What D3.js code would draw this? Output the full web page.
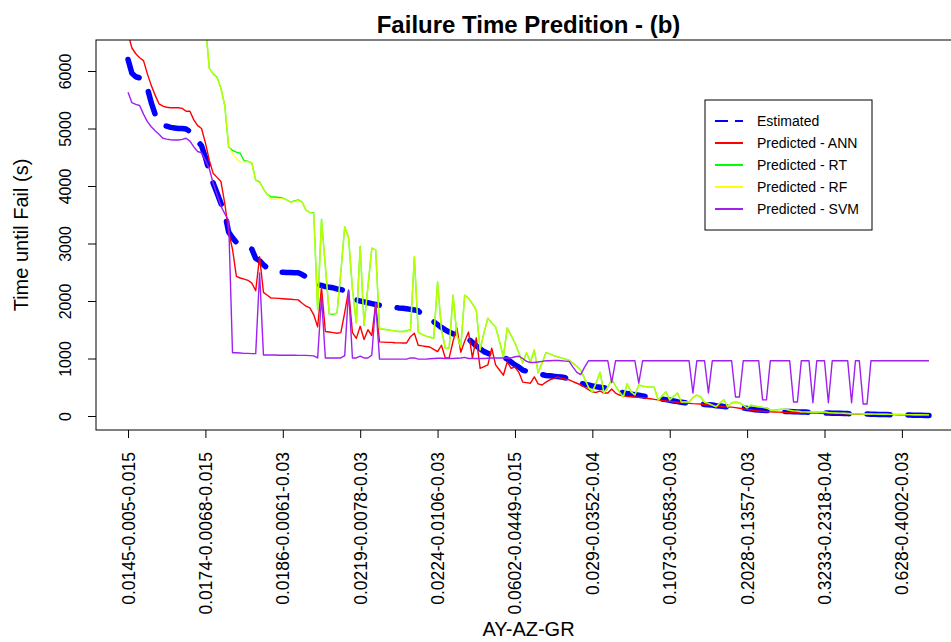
<!DOCTYPE html>
<html>
<head>
<meta charset="utf-8">
<script src="https://d3js.org/d3.v7.min.js"></script>
<style>
  body { margin: 0; background: #fff; }
  text { font-family: "Liberation Sans", Arial, Helvetica, sans-serif; }
</style>
</head>
<body>
<div id="chart"></div>
<script>
// tick labels on the x axis (every 20th case)
var xTickIdx = [1, 21, 41, 61, 81, 101, 121, 141, 161, 181, 201];
var xTickLabels = ["0.0145-0.005-0.015", "0.0174-0.0068-0.015", "0.0186-0.0061-0.03",
  "0.0219-0.0078-0.03", "0.0224-0.0106-0.03", "0.0602-0.0449-0.015", "0.029-0.0352-0.04",
  "0.1073-0.0583-0.03", "0.2028-0.1357-0.03", "0.3233-0.2318-0.04", "0.628-0.4002-0.03"];
var yTicks = [0, 1000, 2000, 3000, 4000, 5000, 6000];

var seriesNames = ["Estimated", "Predicted - ANN", "Predicted - RT", "Predicted - RF", "Predicted - SVM"];

var estimated = [
  6200,5960,5900,5880,5860,5700,5450,5250,5100,5060,
  5040,5020,5010,5000,5000,4990,4950,4880,4780,4700,
  4500,4250,4050,3880,3700,3530,3200,3100,3020,2970,
  2960,2945,2900,2740,2700,2630,2570,2540,2520,2500,
  2500,2495,2495,2490,2490,2460,2420,2370,2330,2290,
  2270,2250,2240,2230,2210,2200,2180,2120,2060,2020,
  2000,1985,1970,1955,1940,1925,1910,1900,1895,1890,
  1880,1875,1865,1855,1845,1830,1760,1730,1700,1640,
  1590,1540,1500,1460,1430,1400,1380,1365,1340,1280,
  1220,1170,1120,1090,1070,1060,1040,1020,990,940,
  890,850,800,780,765,750,735,720,705,700,
  690,685,680,665,630,600,585,570,550,540,
  525,510,500,490,480,470,445,420,405,390,
  380,370,360,350,335,325,315,305,295,285,
  275,262,250,240,230,225,220,215,210,200,
  195,190,180,175,165,160,155,150,145,140,
  130,120,110,105,100,95,92,88,85,82,
  80,78,75,72,70,68,65,62,60,57,
  55,52,50,48,46,44,42,40,38,37,
  35,34,32,30,28,27,25,24,22,21,
  20,18,16,15,13,12,11,10];

var ann = [
  6650,6400,6300,6230,6180,5950,5750,5580,5430,5390,
  5370,5360,5360,5360,5350,5300,5300,5150,5050,5000,
  4750,4450,4220,4150,4080,3700,3200,2900,2430,2400,
  2380,2360,2310,2180,2770,2150,2100,2050,2050,2045,
  2040,2035,2030,2025,2020,1960,1910,1880,1760,1550,
  2240,1470,1460,1450,1440,1450,1800,2190,1450,1350,
  1560,1330,1500,1400,1950,1290,1285,1280,1280,1275,
  1272,1270,1270,1380,1440,1230,1220,1210,1200,1160,
  1120,1230,1010,1010,1300,1530,1110,1300,1460,1010,
  1360,830,860,890,1180,890,800,710,940,830,
  850,760,590,580,570,680,560,540,590,630,
  650,680,660,640,630,600,570,540,500,460,
  420,410,435,400,400,470,400,365,350,340,
  335,330,325,320,310,300,290,280,270,262,
  255,248,240,232,225,220,215,212,208,200,
  192,185,178,170,163,158,155,145,135,125,
  115,105,95,88,82,78,72,70,68,66,
  64,62,60,58,57,55,53,52,50,48,
  47,45,44,42,41,40,38,37,36,35,
  33,32,31,30,28,27,26,25,24,22,
  21,20,19,18,17,16,15,14];

var rt = [
  9000,8850,8700,8600,8500,8400,8300,8200,8100,8000,
  7900,7800,7700,7600,7500,7400,7300,7200,7100,7000,
  6800,6050,5950,5890,5700,5400,4680,4620,4590,4570,
  4440,4430,4400,4100,4070,3950,3850,3810,3810,3800,
  3790,3760,3720,3740,3760,3720,3580,3540,3530,1850,
  3420,2600,1780,1770,1790,2500,3290,3100,2200,1620,
  2950,1580,2250,2920,2890,1520,1510,1500,1490,1480,
  1470,1470,1480,1500,2770,1460,1420,1390,1370,1350,
  2330,1500,1180,1180,2100,1400,1200,2100,2050,1950,
  1840,1150,1450,1700,1620,1550,1300,1030,1530,1400,
  1270,1100,920,1100,940,1150,750,920,1100,1080,
  1050,1030,1010,990,970,920,860,800,650,500,
  420,580,760,400,500,640,520,420,330,560,
  420,365,540,520,510,500,500,280,350,420,
  280,340,400,245,245,245,320,365,330,240,
  220,190,160,230,280,160,230,240,230,190,
  140,190,175,160,150,140,105,100,110,120,
  115,100,90,85,75,72,70,68,70,72,
  70,60,55,52,50,48,45,40,38,37,
  36,35,34,33,32,31,30,29,28,27,
  26,25,24,23,22,21,20,19];

var rf = [
  9000,8850,8700,8600,8500,8400,8300,8200,8100,8000,
  7900,7800,7700,7600,7500,7400,7300,7200,7100,7000,
  6800,6050,5950,5880,5700,5400,4700,4560,4480,4420,
  4420,4430,4400,4100,4060,3950,3850,3770,3770,3780,
  3780,3760,3720,3730,3750,3720,3580,3540,3520,1850,
  3410,2600,1790,1780,1790,2500,3290,3110,2200,1620,
  2940,1580,2250,2920,2890,1530,1510,1500,1490,1480,
  1470,1460,1470,1500,2770,1460,1420,1390,1370,1350,
  2330,1500,1180,1180,2100,1400,1200,2100,2050,1950,
  1840,1150,1450,1700,1620,1550,1300,1030,1530,1400,
  1270,1100,920,1100,940,1150,750,920,1100,1080,
  1050,1030,1010,990,970,920,860,800,650,500,
  420,580,760,400,500,640,520,420,330,560,
  420,365,540,520,510,500,500,280,350,420,
  280,340,400,245,245,245,320,365,330,240,
  220,190,160,230,280,160,230,240,230,190,
  140,190,175,160,150,140,105,100,110,120,
  115,100,90,85,75,72,70,68,70,72,
  70,60,55,52,50,48,45,40,38,37,
  36,35,34,33,32,31,30,29,28,27,
  26,25,24,23,22,21,20,19];

var svm = [
  5630,5450,5420,5400,5250,5120,5030,4960,4900,4830,
  4815,4805,4800,4800,4810,4830,4780,4680,4600,4575,
  4450,4300,4050,3850,3650,3520,3400,1100,1100,1095,
  1090,1090,1085,1085,2490,1060,1060,1060,1060,1058,
  1058,1057,1057,1056,1055,1055,1055,1050,1045,1010,
  2070,1010,1010,1010,1010,1010,1050,2190,1010,1010,
  1040,1010,1010,1060,1960,990,990,990,990,990,
  990,990,990,1010,1010,990,990,990,995,1000,
  1005,1005,1000,1000,1000,1005,1010,1020,1000,1000,
  1000,1000,1000,1005,1010,1010,1010,1010,1010,1010,
  1030,1040,1000,950,930,930,940,950,960,960,
  965,965,960,955,950,850,760,720,850,960,
  960,960,960,960,960,580,960,960,960,960,
  960,960,570,960,960,960,960,960,960,960,
  960,960,960,960,960,960,400,960,960,960,
  400,960,960,960,960,960,960,330,330,960,
  960,960,960,960,280,280,960,960,960,960,
  960,960,245,245,960,960,960,230,960,960,
  960,230,960,960,960,960,960,230,960,960,
  210,210,960,960,960,960,960,960,960,960,
  960,960,960,960,960,960,960,960];

var W = 951, H = 642;
var plot = { left: 96, right: 961, top: 40, bottom: 430 };

var n = estimated.length;
// R style axis range: data range stretched by 4% on each side
var xPad = 0.04 * (n - 1);
var x = d3.scaleLinear().domain([1 - xPad, n + xPad]).range([plot.left, plot.right]);
var yLim = [8, 6288], yPad = 0.04 * (yLim[1] - yLim[0]);
var y = d3.scaleLinear().domain([yLim[0] - yPad, yLim[1] + yPad]).range([plot.bottom, plot.top]);

var svg = d3.select("#chart").append("svg")
  .attr("width", W).attr("height", H);

svg.append("clipPath").attr("id", "clip")
  .append("rect")
  .attr("x", plot.left).attr("y", plot.top)
  .attr("width", plot.right - plot.left).attr("height", plot.bottom - plot.top);

var line = d3.line()
  .x(function (d, i) { return x(i + 1); })
  .y(function (d) { return y(d); });

var lines = svg.append("g").attr("clip-path", "url(#clip)");

lines.append("path").datum(estimated)
  .attr("d", line).attr("fill", "none")
  .attr("stroke", "#0000ff").attr("stroke-width", 5.5)
  .attr("stroke-dasharray", "23,18").attr("stroke-linecap", "round")
  .attr("stroke-linejoin", "round");

var thin = [
  { data: ann, color: "#ff0000", op: 1 },
  { data: rt, color: "#00ff00", op: 1 },
  { data: rf, color: "#ffff00", op: 0.72 },
  { data: svm, color: "#a020f0", op: 1 }
];
thin.forEach(function (s) {
  lines.append("path").datum(s.data)
    .attr("d", line).attr("fill", "none")
    .attr("stroke", s.color).attr("stroke-opacity", s.op)
    .attr("stroke-width", 1.4).attr("stroke-linejoin", "round");
});

// box
svg.append("rect")
  .attr("x", plot.left).attr("y", plot.top)
  .attr("width", plot.right - plot.left).attr("height", plot.bottom - plot.top)
  .attr("fill", "none").attr("stroke", "#000").attr("stroke-width", 1);

// Y axis
var yAxis = svg.append("g")
  .attr("transform", "translate(" + plot.left + ",0)")
  .call(d3.axisLeft(y).tickValues(yTicks).tickSize(8).tickSizeOuter(0)
    .tickFormat(d3.format("d")));
yAxis.select(".domain").remove();
yAxis.selectAll("line").attr("stroke", "#000");
yAxis.selectAll("text")
  .attr("x", 0).attr("y", -25).attr("dy", 0)
  .attr("text-anchor", "middle")
  .attr("transform", "rotate(-90)")
  .style("font-size", "16px").attr("fill", "#000")
  .style("font-family", '"Liberation Sans", Arial, sans-serif');

// X axis
var xAxis = svg.append("g")
  .attr("transform", "translate(0," + plot.bottom + ")")
  .call(d3.axisBottom(x).tickValues(xTickIdx).tickSize(8).tickSizeOuter(0)
    .tickFormat(function (d, i) { return xTickLabels[i]; }));
xAxis.select(".domain").remove();
xAxis.selectAll("line").attr("stroke", "#000");
xAxis.selectAll("text")
  .attr("x", -22).attr("y", 6).attr("dy", 0)
  .attr("text-anchor", "end")
  .attr("transform", "rotate(-90)")
  .style("font-size", "17.5px").attr("fill", "#000")
  .style("font-family", '"Liberation Sans", Arial, sans-serif');

// titles
svg.append("text")
  .attr("x", (plot.left + plot.right) / 2).attr("y", 33)
  .attr("text-anchor", "middle")
  .style("font-size", "24px").style("font-weight", "bold")
  .text("Failure Time Predition - (b)");

svg.append("text")
  .attr("x", (plot.left + plot.right) / 2).attr("y", 636)
  .attr("text-anchor", "middle")
  .style("font-size", "20px")
  .text("AY-AZ-GR");

svg.append("text")
  .attr("transform", "translate(28," + (plot.top + plot.bottom) / 2 + ")rotate(-90)")
  .attr("text-anchor", "middle")
  .style("font-size", "20px")
  .text("Time until Fail (s)");

// legend
var legend = svg.append("g").attr("transform", "translate(705,100)");
legend.append("rect")
  .attr("width", 167).attr("height", 130)
  .attr("fill", "#fff").attr("stroke", "#000");
var legColors = ["#0000ff", "#ff0000", "#00ff00", "#ffff00", "#a020f0"];
seriesNames.forEach(function (name, k) {
  var yy = 21 + k * 22;
  legend.append("line")
    .attr("x1", 10).attr("x2", 38).attr("y1", yy).attr("y2", yy)
    .attr("stroke", legColors[k]).attr("stroke-width", 2)
    .attr("stroke-dasharray", k == 0 ? "13,7" : null);
  legend.append("text")
    .attr("x", 52).attr("y", yy).attr("dy", "0.35em")
    .style("font-size", "14px")
    .text(name);
});
</script>
</body>
</html>
